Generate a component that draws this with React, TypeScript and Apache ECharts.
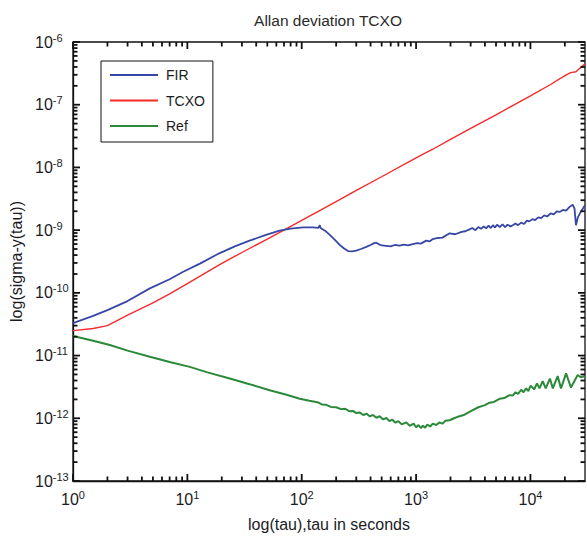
import React, { useEffect, useRef } from "react";
import * as echarts from "echarts";

const titleText = "Allan deviation TCXO";
const xName = "log(tau),tau in seconds";
const yName = "log(sigma-y(tau))";
const seriesNames = ["FIR", "TCXO", "Ref"];
const seriesColors = ["#3747a5", "#f52a2a", "#2b8a3a"];

const xMin = 1;
const xMax = 30000;
const yMin = 1e-13;
const yMax = 1e-6;
const xMajorTicks = [1, 10, 100, 1000, 10000];
const xMinorTicks = [2, 3, 4, 5, 6, 7, 8, 9, 20, 30, 40, 50, 60, 70, 80, 90, 200, 300, 400, 500, 600, 700, 800, 900, 2000, 3000, 4000, 5000, 6000, 7000, 8000, 9000, 20000];
const yMinorMantissa = [2, 3, 4, 5, 6, 7, 8, 9];
const yDecades = [-13, -12, -11, -10, -9, -8, -7, -6];

const firTau = [1, 1.5, 2, 3, 4.7, 7, 9.2, 13, 19, 26, 35, 48, 64, 80, 103, 125, 140, 144, 146, 160, 176, 195, 215, 235, 254, 275, 300, 330, 367, 400, 430, 449, 470, 500, 549, 600, 650, 717, 780, 850, 938, 1020, 1100, 1228, 1312, 1400, 1550, 1700, 1963, 2200, 2500, 2700, 2930, 3100, 3300, 3500, 3700, 3900, 4100, 4300, 4500, 4700, 4900, 5100, 5400, 5700, 6000, 6300, 6700, 7000, 7400, 7800, 8300, 8800, 9300, 9800, 10400, 11000, 11700, 12400, 13200, 14000, 15000, 16000, 17000, 18000, 19200, 20500, 22000, 23400, 24300, 25000, 26000, 27500, 30000];
const firSigma = [3.3e-11, 4.3e-11, 5.3e-11, 7.4e-11, 1.18e-10, 1.65e-10, 2.17e-10, 2.95e-10, 4.27e-10, 5.5e-10, 6.8e-10, 8.3e-10, 9.8e-10, 1.06e-9, 1.11e-9, 1.11e-9, 1.09e-9, 1.2e-9, 1.08e-9, 9.8e-10, 8.4e-10, 7.0e-10, 5.8e-10, 5.1e-10, 4.64e-10, 4.6e-10, 4.7e-10, 5.0e-10, 5.4e-10, 5.8e-10, 6.2e-10, 6.3e-10, 6.0e-10, 5.7e-10, 5.6e-10, 5.5e-10, 5.8e-10, 5.65e-10, 5.9e-10, 5.7e-10, 6.0e-10, 6.2e-10, 6.1e-10, 6.8e-10, 6.6e-10, 7.2e-10, 7.5e-10, 7.6e-10, 8.9e-10, 8.6e-10, 9.4e-10, 9.6e-10, 1.03e-9, 1.08e-9, 1.0e-9, 1.12e-9, 1.05e-9, 1.15e-9, 1.07e-9, 1.18e-9, 1.08e-9, 1.2e-9, 1.1e-9, 1.22e-9, 1.12e-9, 1.24e-9, 1.12e-9, 1.22e-9, 1.15e-9, 1.2e-9, 1.28e-9, 1.2e-9, 1.32e-9, 1.25e-9, 1.42e-9, 1.38e-9, 1.5e-9, 1.45e-9, 1.6e-9, 1.55e-9, 1.72e-9, 1.65e-9, 1.85e-9, 1.78e-9, 2.0e-9, 1.95e-9, 2.1e-9, 2.05e-9, 2.35e-9, 2.55e-9, 2.2e-9, 1.2e-9, 1.6e-9, 1.95e-9, 2.5e-9];

const tcxoTau = [1, 1.5, 2, 3, 5, 7, 10, 20, 30, 50, 78, 100, 200, 300, 500, 1000, 1400, 2000, 3000, 5000, 7000, 10000, 15000, 20000, 22500, 25000, 27000, 30000];
const tcxoSigma = [2.5e-11, 2.7e-11, 3.0e-11, 4.4e-11, 6.9e-11, 9.6e-11, 1.4e-10, 2.95e-10, 4.4e-10, 7.2e-10, 1.12e-9, 1.43e-9, 2.85e-9, 4.3e-9, 7.1e-9, 1.42e-8, 1.95e-8, 2.8e-8, 4.2e-8, 6.9e-8, 9.7e-8, 1.38e-7, 2.1e-7, 2.9e-7, 3.25e-7, 3.35e-7, 3.8e-7, 4.5e-7];

const refTau = [1, 1.5, 2.1, 3, 4.7, 7, 10.5, 15, 23.5, 35, 52.5, 75, 96, 117, 140, 150, 164, 180, 200, 220, 240, 260, 281, 300, 320, 345, 370, 395, 420, 450, 480, 515, 550, 585, 620, 660, 700, 750, 821, 880, 950, 1000, 1050, 1100, 1146, 1200, 1250, 1330, 1400, 1500, 1604, 1700, 1800, 1963, 2150, 2400, 2650, 2930, 3500, 4000, 4385, 4800, 5400, 5900, 6560, 7000, 7400, 7800, 8300, 8700, 9170, 9600, 10000, 10800, 11400, 12000, 12800, 13600, 14800, 15700, 17300, 18500, 20500, 22600, 25900, 27500, 30000];
const refSigma = [2.05e-11, 1.72e-11, 1.47e-11, 1.2e-11, 9.6e-12, 7.9e-12, 6.6e-12, 5.4e-12, 4.3e-12, 3.5e-12, 2.8e-12, 2.35e-12, 2.05e-12, 1.9e-12, 1.78e-12, 1.66e-12, 1.64e-12, 1.52e-12, 1.5e-12, 1.4e-12, 1.42e-12, 1.3e-12, 1.31e-12, 1.21e-12, 1.24e-12, 1.13e-12, 1.18e-12, 1.07e-12, 1.13e-12, 1.02e-12, 1.08e-12, 9.6e-13, 1.01e-12, 9.0e-13, 9.5e-13, 8.5e-13, 9.0e-13, 8.0e-13, 8.6e-13, 7.6e-13, 8.2e-13, 7.2e-13, 7.8e-13, 7.0e-13, 7.6e-13, 7.1e-13, 7.9e-13, 7.4e-13, 8.2e-13, 7.8e-13, 8.6e-13, 8.2e-13, 9.1e-13, 9.3e-13, 1.0e-12, 1.08e-12, 1.14e-12, 1.27e-12, 1.5e-12, 1.62e-12, 1.77e-12, 1.82e-12, 2.05e-12, 2.1e-12, 2.34e-12, 2.3e-12, 2.6e-12, 2.45e-12, 2.85e-12, 2.6e-12, 3.0e-12, 2.7e-12, 3.3e-12, 2.9e-12, 3.6e-12, 3.0e-12, 3.9e-12, 3.0e-12, 4.3e-12, 3.0e-12, 4.7e-12, 3.0e-12, 5.2e-12, 3.1e-12, 4.9e-12, 4.5e-12, 4.7e-12];

const zip = (a: number[], b: number[]) => a.map((v, i) => [v, b[i]]);

const FONT = "'Liberation Sans', Arial, sans-serif";
const TEXT_COLOR = "#1b1b24";
const AXIS_COLOR = "#111111";
const TW = 1.8;

const powLabel = (value: number) => {
  const lg = Math.log10(value);
  const e = Math.round(lg);
  if (Math.abs(lg - e) > 1e-6) return "";
  return `{b|10}{s|${e}}`;
};

const richLabel = {
  b: { fontSize: 16, lineHeight: 20, fontFamily: FONT, color: TEXT_COLOR, verticalAlign: "middle" },
  s: { fontSize: 11, lineHeight: 10, fontFamily: FONT, color: TEXT_COLOR, verticalAlign: "top" },
};

type Side = "bottom" | "top" | "left" | "right";
const tickSeries = (side: Side, data: number[][]) => ({
  type: "custom",
  z: 10,
  clip: false,
  data,
  encode: { x: 0, y: 1 },
  renderItem: (params: any, api: any) => {
    const len = api.value(2);
    if (side === "bottom" || side === "top") {
      const p = api.coord([api.value(0), side === "bottom" ? yMin : yMax]);
      return {
        type: "rect",
        shape: { x: p[0] - TW / 2, y: side === "bottom" ? p[1] - len : p[1], width: TW, height: len },
        style: { fill: AXIS_COLOR },
      };
    }
    const p = api.coord([side === "left" ? xMin : xMax, api.value(1)]);
    return {
      type: "rect",
      shape: { x: side === "left" ? p[0] : p[0] - len, y: p[1] - TW / 2, width: len, height: TW },
      style: { fill: AXIS_COLOR },
    };
  },
});

export default function App() {
  const ref = useRef<HTMLDivElement>(null);
  useEffect(() => {
    if (!ref.current) return;
    const chart = echarts.init(ref.current, null, { renderer: "svg" });
    const xTickData = [
      ...xMajorTicks.map((v) => [v, yMin, 7]),
      ...xMinorTicks.map((v) => [v, yMin, 4.5]),
    ];
    const yTickData: number[][] = [];
    yDecades.forEach((d) => {
      yTickData.push([xMin, Math.pow(10, d), 7]);
      if (d < -6) yMinorMantissa.forEach((m) => yTickData.push([xMin, m * Math.pow(10, d), 4.5]));
    });

    chart.setOption({
      animation: false,
      grid: {
        left: 73,
        right: 2,
        top: 42,
        bottom: 58,
        containLabel: false,
        outerBoundsMode: "none",
        show: true,
        borderColor: AXIS_COLOR,
        borderWidth: 1.3,
        backgroundColor: "transparent",
      },
      graphic: [
        {
          type: "text",
          x: 328,
          y: 20,
          style: {
            text: titleText,
            font: `15.5px ${FONT}`,
            fill: "#2a2a2a",
            textAlign: "center",
            textVerticalAlign: "middle",
          },
        },
      ],
      legend: {
        data: seriesNames,
        orient: "vertical",
        left: 101,
        top: 61,
        padding: [6, 8, 8, 9],
        itemWidth: 48,
        itemHeight: 2,
        itemGap: 9.5,
        icon: "rect",
        borderColor: AXIS_COLOR,
        borderWidth: 1,
        backgroundColor: "#fff",
        textStyle: { fontSize: 14, lineHeight: 16, fontFamily: FONT, color: TEXT_COLOR, padding: [0, 0, 0, 3] },
      },
      xAxis: {
        type: "log",
        logBase: 10,
        min: xMin,
        max: xMax,
        axisLine: { show: true, onZero: false, lineStyle: { color: AXIS_COLOR, width: 1.3 } },
        axisTick: { show: false },
        axisLabel: { formatter: powLabel, rich: richLabel, margin: 8, showMaxLabel: false },
        splitLine: { show: false },
        name: xName,
        nameLocation: "middle",
        nameGap: 35,
        nameTextStyle: { fontSize: 16, fontFamily: FONT, color: TEXT_COLOR },
      },
      yAxis: {
        type: "log",
        logBase: 10,
        min: yMin,
        max: yMax,
        axisLine: { show: true, onZero: false, lineStyle: { color: AXIS_COLOR, width: 1.3 } },
        axisTick: { show: false },
        axisLabel: { formatter: powLabel, rich: richLabel, margin: 38, align: "left" },
        splitLine: { show: false },
        name: yName,
        nameLocation: "middle",
        nameGap: 49,
        nameTextStyle: { fontSize: 16, fontFamily: FONT, color: TEXT_COLOR },
      },
      series: [
        {
          name: seriesNames[0],
          type: "line",
          data: zip(firTau, firSigma),
          symbol: "none",
          color: seriesColors[0],
          lineStyle: { width: 1.8, color: seriesColors[0] },
          z: 4,
        },
        {
          name: seriesNames[1],
          type: "line",
          data: zip(tcxoTau, tcxoSigma),
          symbol: "none",
          color: seriesColors[1],
          lineStyle: { width: 1.4, color: seriesColors[1] },
          z: 3,
        },
        {
          name: seriesNames[2],
          type: "line",
          data: zip(refTau, refSigma),
          symbol: "none",
          color: seriesColors[2],
          lineStyle: { width: 2, color: seriesColors[2] },
          z: 3,
        },
        tickSeries("bottom", xTickData),
        tickSeries("top", xTickData),
        tickSeries("left", yTickData),
        tickSeries("right", yTickData),
      ],
    });
    return () => chart.dispose();
  }, []);
  return (
    <div
      ref={ref}
      style={{ position: "fixed", left: 0, top: 0, width: 587, height: 539, background: "#fff" }}
    />
  );
}
